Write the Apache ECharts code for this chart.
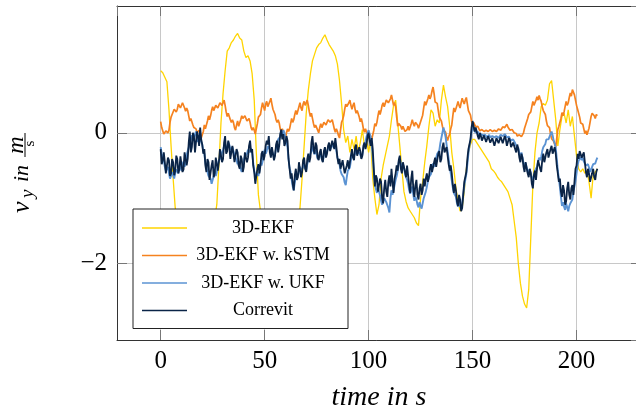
<!DOCTYPE html>
<html><head><meta charset="utf-8">
<script src="https://cdn.jsdelivr.net/npm/echarts@6/dist/echarts.min.js"></script>
<style>html,body{margin:0;padding:0;background:#fff}#c{width:636px;height:413px}</style>
</head><body><div id="c"></div>
<script>
// ---------- data ----------
// whole-second samples (t = 0..210 s) and, for the noisy signals, the half-second samples in between
const seriesNames = ['3D-EKF', '3D-EKF w. kSTM', '3D-EKF w. UKF', 'Correvit'];
const xTicks = [0, 50, 100, 150, 200];
const yTicks = [-2, 0];

const ekf = [
 0.95,0.92,0.85,0.78,0.35,-0.2,-0.7,-1.15,-1.35,-1.45,
 -1.5,-1.52,-1.55,-1.55,-1.58,-1.6,-1.58,-1.55,-1.55,-1.52,
 -1.5,-1.5,-1.48,-1.45,-1.42,-1.4,-1.3,-1.1,-0.5,0.15,
 0.6,0.95,1.25,1.3,1.38,1.42,1.48,1.52,1.45,1.42,
 1.25,1.15,1.18,1.1,0.9,0.5,-0.3,-0.95,-1.2,-1.35,
 -1.45,-1.5,-1.55,-1.58,-1.6,-1.6,-1.58,-1.55,-1.55,-1.52,
 -1.5,-1.48,-1.45,-1.42,-1.38,-1.35,-1.3,-1.15,-0.7,-0.2,
 0.3,0.65,0.9,1.1,1.2,1.3,1.35,1.38,1.45,1.5,
 1.42,1.35,1.3,1.25,1.18,1.05,0.8,0.45,0.05,-0.15,
 -0.05,-0.3,-0.1,-0.25,-0.05,-0.3,-0.15,0.05,-0.2,-0.1,
 -0.3,-0.1,-0.7,-1.0,-1.25,-1.1,-0.7,-0.5,-0.35,-0.2,
 -0.05,0.2,0.42,0.5,0.15,-0.2,-0.55,-0.9,-1.05,-1.15,
 -1.2,-1.25,-1.3,-1.38,-1.42,-1.0,-0.75,-0.45,-0.2,0.1,
 0.35,0.3,0.1,0.2,0.15,0.5,0.73,0.55,0.4,0.1,
 -0.3,-0.55,-0.85,-1.05,-1.2,-1.15,-0.9,-0.55,-0.3,-0.18,
 -0.1,-0.1,-0.15,-0.2,-0.25,-0.3,-0.35,-0.4,-0.45,-0.55,
 -0.58,-0.62,-0.68,-0.72,-0.75,-0.8,-0.85,-0.9,-1.0,-1.1,
 -1.35,-1.6,-2.0,-2.3,-2.5,-2.62,-2.68,-2.4,-1.6,-0.8,
 -0.3,0.0,0.15,0.4,0.45,0.42,0.5,0.75,0.8,0.5,
 0.2,-0.2,0.05,0.25,0.3,0.15,0.35,0.1,0.25,-0.05,
 -0.35,-0.55,-0.6,-0.55,-0.62,-0.58,-0.75,-1.0,-0.65,-0.6,-0.55
];

const kstm = [
 0.17,0.03,-0.04,0.06,0.04,0.24,0.3,0.38,0.36,0.46,
 0.4,0.44,0.33,0.34,0.18,0.2,0.08,0.06,0.0,-0.02,
 -0.1,0.12,0.08,0.26,0.26,0.4,0.36,0.44,0.4,0.48,
 0.46,0.42,0.25,0.3,0.16,0.16,0.04,0.18,0.08,0.26,
 0.2,0.25,0.17,0.16,0.04,0.04,0.0,0.24,0.28,0.46,
 0.34,0.48,0.38,0.53,0.36,0.28,0.16,0.15,0.01,0.04,
 -0.08,0.06,0.06,0.22,0.2,0.34,0.3,0.46,0.34,0.48,
 0.45,0.42,0.25,0.22,0.08,0.12,0.0,0.14,0.11,0.16,
 0.16,0.22,0.18,0.13,0.01,0.02,-0.08,0.16,0.26,0.44,
 0.38,0.5,0.36,0.46,0.3,0.34,0.17,0.15,0.01,0.03,
 -0.09,-0.06,-0.08,0.14,0.16,0.34,0.34,0.46,0.41,0.53,
 0.44,0.58,0.42,0.4,0.1,0.17,0.05,0.08,-0.01,0.1,
 0.07,0.2,0.1,0.18,0.07,0.15,0.27,0.48,0.44,0.58,
 0.56,0.7,0.47,0.45,0.24,0.18,0.04,0.01,-0.12,-0.02,
 0.12,0.38,0.34,0.48,0.38,0.53,0.44,0.54,0.34,0.27,
 0.12,0.14,0.06,0.07,0.01,0.05,0.0,0.05,0.01,0.06,
 0.0,0.05,0.03,0.07,0.06,0.11,0.1,0.09,0.04,0.05,
 0.0,-0.01,-0.08,-0.02,-0.07,0.07,0.15,0.28,0.32,0.48,
 0.44,0.55,0.57,0.48,0.34,0.28,0.11,0.08,-0.09,-0.13,
 -0.22,0.05,0.12,0.31,0.32,0.48,0.46,0.61,0.66,0.58,
 0.42,0.33,0.15,0.13,-0.01,-0.03,0.07,0.25,0.33,0.22,0.26
];
const kstmHalf = [
 0.08,-0.02,0.03,0.0,0.16,0.28,0.36,0.32,0.44,0.38,
 0.46,0.38,0.38,0.26,0.22,0.12,0.1,0.0,0.04,-0.08,
 0.02,0.06,0.18,0.2,0.34,0.34,0.42,0.38,0.46,0.42,
 0.5,0.32,0.3,0.2,0.2,0.08,0.12,0.1,0.2,0.22,
 0.26,0.18,0.22,0.08,0.08,-0.02,0.14,0.22,0.38,0.4,
 0.44,0.4,0.48,0.44,0.34,0.2,0.2,0.06,0.06,-0.04,
 0.0,0.02,0.14,0.16,0.28,0.28,0.4,0.38,0.44,0.42,
 0.5,0.32,0.3,0.14,0.12,0.04,0.08,0.08,0.16,0.12,
 0.2,0.16,0.2,0.06,0.06,-0.04,0.04,0.2,0.36,0.4,
 0.46,0.42,0.42,0.36,0.34,0.24,0.22,0.06,0.06,-0.04,
 -0.02,-0.1,0.04,0.1,0.26,0.28,0.42,0.4,0.5,0.46,
 0.52,0.5,0.46,0.24,0.14,0.1,0.1,0.02,0.05,0.04,
 0.14,0.14,0.16,0.12,0.12,0.22,0.38,0.42,0.52,0.52,
 0.64,0.6,0.5,0.34,0.24,0.1,0.06,-0.06,-0.06,0.06,
 0.26,0.32,0.42,0.42,0.46,0.48,0.5,0.44,0.32,0.18,
 0.16,0.09,0.1,0.03,0.05,0.02,0.04,0.02,0.05,0.02,
 0.04,0.02,0.06,0.04,0.09,0.08,0.13,0.06,0.07,0.02,
 0.03,-0.05,-0.03,-0.06,0.0,0.12,0.22,0.26,0.4,0.42,
 0.5,0.5,0.52,0.4,0.32,0.18,0.14,-0.02,-0.06,-0.18,
 -0.08,0.1,0.22,0.26,0.4,0.42,0.54,0.56,0.64,0.5,
 0.36,0.24,0.18,0.06,0.03,0.02,0.16,0.3,0.26,0.28
];

const ukf = [
 -0.22,-0.38,-0.52,-0.55,-0.62,-0.66,-0.64,-0.62,-0.58,-0.54,
 -0.58,-0.44,-0.46,-0.28,-0.18,-0.04,-0.12,0.02,-0.14,-0.03,
 -0.18,-0.32,-0.54,-0.66,-0.7,-0.76,-0.58,-0.6,-0.42,-0.38,
 -0.26,-0.22,-0.2,-0.18,-0.28,-0.28,-0.32,-0.48,-0.46,-0.6,
 -0.42,-0.38,-0.26,-0.28,-0.32,-0.58,-0.68,-0.66,-0.46,-0.44,
 -0.26,-0.28,-0.17,-0.34,-0.32,-0.33,-0.16,-0.12,0.02,0.04,
 -0.08,-0.22,-0.54,-0.72,-0.88,-0.68,-0.66,-0.52,-0.63,-0.47,
 -0.58,-0.42,-0.38,-0.2,-0.33,-0.32,-0.43,-0.32,-0.44,-0.27,
 -0.31,-0.2,-0.23,-0.22,-0.18,-0.38,-0.48,-0.63,-0.68,-0.8,
 -0.58,-0.53,-0.32,-0.41,-0.27,-0.35,-0.32,-0.33,-0.18,-0.06,
 0.04,-0.06,-0.38,-0.78,-0.92,-0.82,-1.04,-1.08,-0.98,-1.05,
 -1.22,-0.88,-0.88,-0.72,-0.58,-0.37,-0.53,-0.52,-0.68,-0.78,
 -0.93,-0.82,-1.04,-1.02,-1.14,-1.12,-1.08,-0.97,-0.83,-0.68,
 -0.63,-0.47,-0.48,-0.32,-0.27,-0.08,0.08,-0.06,-0.28,-0.52,
 -0.73,-0.92,-0.98,-1.13,-1.12,-1.08,-0.82,-0.63,-0.32,-0.12,
 0.1,0.04,0.03,-0.03,-0.02,-0.04,-0.03,-0.07,-0.03,-0.08,
 -0.04,-0.09,-0.04,-0.07,-0.02,-0.06,-0.03,-0.09,-0.09,-0.13,
 -0.09,-0.2,-0.23,-0.37,-0.38,-0.52,-0.53,-0.63,-0.62,-0.73,
 -0.58,-0.52,-0.38,-0.37,-0.22,-0.17,-0.08,-0.07,0.02,-0.12,
 -0.23,-0.58,-0.83,-1.12,-1.13,-1.08,-1.2,-1.08,-1.02,-0.82,
 -0.62,-0.43,-0.37,-0.38,-0.47,-0.52,-0.53,-0.58,-0.48,-0.47,-0.38
];
const ukfHalf = [
 -0.32,-0.42,-0.58,-0.52,-0.7,-0.6,-0.7,-0.56,-0.62,-0.5,
 -0.48,-0.52,-0.34,-0.3,-0.08,-0.12,-0.02,-0.1,-0.04,-0.14,
 -0.28,-0.45,-0.6,-0.64,-0.78,-0.66,-0.66,-0.48,-0.44,-0.3,
 -0.2,-0.26,-0.14,-0.26,-0.22,-0.34,-0.42,-0.44,-0.56,-0.5,
 -0.36,-0.32,-0.3,-0.24,-0.46,-0.66,-0.62,-0.58,-0.5,-0.34,
 -0.32,-0.2,-0.26,-0.28,-0.38,-0.24,-0.1,-0.06,-0.04,0.0,
 -0.14,-0.4,-0.6,-0.82,-0.76,-0.62,-0.58,-0.6,-0.52,-0.54,
 -0.48,-0.36,-0.28,-0.28,-0.26,-0.4,-0.36,-0.4,-0.34,-0.32,
 -0.24,-0.26,-0.18,-0.2,-0.28,-0.42,-0.58,-0.6,-0.76,-0.68,
 -0.6,-0.42,-0.38,-0.32,-0.32,-0.3,-0.38,-0.24,-0.14,0.0,
 -0.02,-0.2,-0.6,-0.86,-0.84,-0.96,-1.1,-1.0,-1.06,-1.15,
 -1.0,-0.95,-0.8,-0.66,-0.45,-0.46,-0.48,-0.62,-0.72,-0.88,
 -0.88,-0.95,-0.98,-1.1,-1.06,-1.16,-1.0,-0.9,-0.74,-0.7,
 -0.54,-0.52,-0.38,-0.34,-0.16,0.0,0.02,-0.18,-0.4,-0.62,
 -0.84,-0.9,-1.08,-1.06,-1.16,-0.95,-0.72,-0.48,-0.2,0.0,
 0.06,0.0,0.02,-0.06,-0.01,-0.06,-0.04,-0.04,-0.07,-0.05,
 -0.07,-0.05,-0.08,-0.03,-0.05,-0.02,-0.07,-0.06,-0.12,-0.1,
 -0.16,-0.18,-0.32,-0.3,-0.46,-0.46,-0.6,-0.56,-0.68,-0.66,
 -0.56,-0.44,-0.42,-0.28,-0.22,-0.1,-0.1,-0.02,-0.04,-0.16,
 -0.4,-0.7,-0.98,-1.06,-1.18,-1.14,-1.12,-1.1,-0.9,-0.74,
 -0.5,-0.4,-0.42,-0.44,-0.5,-0.48,-0.6,-0.52,-0.5,-0.42
];

const correvit = [
 -0.25,-0.42,-0.45,-0.6,-0.42,-0.62,-0.45,-0.58,-0.4,-0.55,
 -0.38,-0.56,-0.32,-0.4,0.02,-0.22,-0.05,-0.28,-0.06,0.08,
 -0.18,-0.25,-0.6,-0.45,-0.7,-0.42,-0.62,-0.4,-0.45,-0.28,
 -0.4,-0.05,-0.28,-0.2,-0.38,-0.22,-0.42,-0.3,-0.55,-0.4,
 -0.52,-0.28,-0.38,-0.12,-0.25,-0.6,-0.75,-0.48,-0.5,-0.28,
 -0.35,-0.12,-0.05,-0.38,-0.25,-0.35,-0.12,-0.2,0.05,-0.02,
 -0.15,-0.12,-0.55,-0.62,-0.88,-0.55,-0.68,-0.48,-0.6,-0.38,
 -0.6,-0.32,-0.38,-0.05,-0.32,-0.2,-0.42,-0.25,-0.45,-0.22,
 -0.32,-0.15,-0.25,-0.18,-0.08,-0.38,-0.4,-0.58,-0.45,-0.65,
 -0.42,-0.52,-0.25,-0.42,-0.18,-0.38,-0.28,-0.35,-0.15,-0.18,
 0.0,-0.2,-0.25,-0.82,-0.7,-0.92,-0.75,-1.08,-0.72,-0.98,
 -0.65,-0.55,-0.92,-0.62,-0.58,-0.35,-0.62,-0.42,-0.68,-0.65,
 -0.92,-0.58,-0.98,-0.72,-1.02,-0.78,-0.88,-0.82,-0.62,-0.68,
 -0.48,-0.58,-0.38,-0.5,-0.28,-0.4,-0.15,-0.32,-0.35,-0.58,
 -0.62,-0.92,-0.88,-1.12,-1.02,-1.15,-0.75,-0.6,-0.25,-0.1,
 0.18,0.02,0.05,-0.1,-0.05,-0.14,-0.06,-0.16,-0.07,-0.18,
 -0.1,-0.18,-0.06,-0.15,-0.05,-0.14,-0.1,-0.18,-0.12,-0.25,
 -0.12,-0.3,-0.25,-0.45,-0.38,-0.6,-0.42,-0.68,-0.62,-0.85,
 -0.58,-0.55,-0.4,-0.6,-0.32,-0.42,-0.25,-0.4,-0.2,-0.35,
 -0.32,-0.62,-0.7,-0.98,-0.88,-1.05,-0.75,-1.02,-0.8,-0.75,
 -0.5,-0.4,-0.25,-0.4,-0.45,-0.68,-0.62,-0.78,-0.55,-0.72,-0.55
];
const correvitHalf = [
 -0.48,-0.3,-0.62,-0.38,-0.66,-0.4,-0.65,-0.35,-0.62,-0.36,
 -0.6,-0.3,-0.5,-0.15,-0.3,0.0,-0.3,0.02,-0.2,-0.1,
 -0.32,-0.5,-0.4,-0.72,-0.5,-0.68,-0.38,-0.58,-0.25,-0.45,
 -0.15,-0.32,-0.12,-0.4,-0.2,-0.45,-0.25,-0.5,-0.35,-0.6,
 -0.3,-0.45,-0.2,-0.3,-0.5,-0.78,-0.55,-0.62,-0.32,-0.42,
 -0.2,-0.18,-0.3,-0.22,-0.42,-0.18,-0.3,-0.02,-0.1,-0.2,
 -0.05,-0.4,-0.7,-0.78,-0.65,-0.72,-0.45,-0.68,-0.42,-0.55,
 -0.4,-0.45,-0.15,-0.25,-0.15,-0.38,-0.3,-0.4,-0.28,-0.38,
 -0.2,-0.28,-0.12,-0.25,-0.22,-0.48,-0.55,-0.42,-0.62,-0.5,
 -0.55,-0.35,-0.38,-0.22,-0.35,-0.22,-0.4,-0.2,-0.25,-0.05,
 -0.12,-0.08,-0.55,-0.65,-0.9,-0.7,-1.0,-0.85,-0.9,-0.75,
 -0.82,-0.75,-0.7,-0.5,-0.42,-0.55,-0.45,-0.6,-0.5,-0.8,
 -0.7,-0.85,-0.8,-0.95,-0.85,-0.95,-0.7,-0.7,-0.75,-0.55,
 -0.6,-0.45,-0.52,-0.32,-0.45,-0.22,-0.3,-0.22,-0.48,-0.5,
 -0.8,-0.78,-1.05,-0.95,-1.2,-0.95,-0.72,-0.4,-0.22,0.08,
 0.1,0.08,-0.05,0.0,-0.12,-0.04,-0.14,-0.05,-0.15,-0.08,
 -0.2,-0.08,-0.16,-0.06,-0.16,-0.05,-0.2,-0.08,-0.22,-0.15,
 -0.25,-0.18,-0.38,-0.32,-0.52,-0.45,-0.62,-0.55,-0.78,-0.65,
 -0.72,-0.42,-0.55,-0.42,-0.45,-0.3,-0.38,-0.25,-0.32,-0.22,
 -0.5,-0.75,-0.9,-0.8,-1.1,-0.85,-0.95,-0.85,-0.95,-0.55,
 -0.32,-0.28,-0.38,-0.3,-0.6,-0.55,-0.75,-0.62,-0.68,-0.6
];

const colors = ['#FFD400', '#F5821F', '#5B93D3', '#0A2447'];
const widths = [1.3, 1.7, 1.9, 1.8];
const wholeValues = [ekf, kstm, ukf, correvit];
const halfValues = [null, kstmHalf, ukfHalf, correvitHalf];
const sampleStep = 1; // s between whole samples

function buildPoints(whole, half) {
  const pts = [];
  for (let i = 0; i < whole.length; i++) {
    pts.push([i * sampleStep, whole[i]]);
    if (half && i < half.length) pts.push([(i + 0.5) * sampleStep, half[i]]);
  }
  return pts;
}

// ---------- chart ----------
const chart = echarts.init(document.getElementById('c'), null, {renderer: 'canvas'});
const serif = '"Liberation Serif", "DejaVu Serif", serif';
const minus = v => (v < 0 ? '\u2212' + Math.abs(v) : String(v));

const tickStyle = {inside: true, length: 10, lineStyle: {color: '#777', width: 1}};
const frameLine = {show: true, onZero: false, lineStyle: {color: '#333', width: 1}};
const xBase = {type: 'value', min: -21, max: 231, minInterval: 50, maxInterval: 50};
const yBase = {type: 'value', min: -3.17, max: 1.94, minInterval: 2, maxInterval: 2};

const option = {
  animation: false,
  backgroundColor: '#fff',
  grid: {left: 117, top: 6, right: -5, bottom: 73, show: false, containLabel: false, outerBoundsMode: 'none'},
  xAxis: [
    Object.assign({}, xBase, {
      position: 'bottom',
      axisLine: frameLine,
      axisTick: tickStyle,
      splitLine: {show: true, lineStyle: {color: '#c8c8c8', width: 1}},
      axisLabel: {
        fontFamily: serif, fontSize: 25, color: '#000', margin: 9,
        showMinLabel: false, showMaxLabel: false,
        formatter: v => (xTicks.indexOf(v) >= 0 ? String(v) : '')
      },
      name: 'time in s', nameLocation: 'middle', nameGap: 44,
      nameTextStyle: {fontFamily: serif, fontStyle: 'italic', fontSize: 28, color: '#000'}
    }),
    Object.assign({}, xBase, {
      position: 'top', axisLine: frameLine, axisTick: tickStyle,
      axisLabel: {show: false}, splitLine: {show: false}
    })
  ],
  yAxis: [
    Object.assign({}, yBase, {
      position: 'left',
      axisLine: frameLine,
      axisTick: tickStyle,
      splitLine: {show: true, lineStyle: {color: '#c8c8c8', width: 1}},
      axisLabel: {
        fontFamily: serif, fontSize: 25, color: '#000', margin: 10,
        showMinLabel: false, showMaxLabel: false,
        formatter: v => (yTicks.indexOf(v) >= 0 ? minus(v) : '')
      }
    }),
    Object.assign({}, yBase, {
      position: 'right', axisLine: frameLine, axisTick: tickStyle,
      axisLabel: {show: false}, splitLine: {show: false}
    })
  ],
  legend: {
    data: seriesNames,
    orient: 'vertical',
    left: 133, top: 209,
    padding: [10, 14, 9, 9],
    itemGap: 9.5,
    icon: 'rect',
    itemWidth: 45, itemHeight: 1.5,
    backgroundColor: '#fff',
    borderColor: '#222', borderWidth: 1, borderRadius: 0,
    selectedMode: false,
    z: 10,
    formatter: n => '{a|' + n + '}',
    textStyle: {
      fontFamily: serif, fontSize: 18, color: '#000',
      rich: {a: {fontFamily: serif, fontSize: 18, color: '#000', width: 142, align: 'center', lineHeight: 18}}
    }
  },
  graphic: [{
    type: 'group', x: 30, y: 213, rotation: Math.PI / 2, silent: true,
    children: [
      {type: 'text', x: 0, y: -8, style: {text: 'v', font: 'italic 26px ' + serif, fill: '#000', align: 'left', verticalAlign: 'middle'}},
      {type: 'text', x: 15, y: -2.5, style: {text: 'y', font: 'italic 19px ' + serif, fill: '#000', align: 'left', verticalAlign: 'middle'}},
      {type: 'text', x: 31, y: -8, style: {text: 'in', font: 'italic 22px ' + serif, fill: '#000', align: 'left', verticalAlign: 'middle'}},
      {type: 'text', x: 68, y: -13.5, style: {text: 'm', font: 'italic 24px ' + serif, fill: '#000', align: 'center', verticalAlign: 'middle'}},
      {type: 'line', shape: {x1: 56, y1: -5, x2: 80, y2: -5}, style: {stroke: '#000', lineWidth: 1}},
      {type: 'text', x: 69.5, y: 0.5, style: {text: 's', font: '15px ' + serif, fill: '#000', align: 'center', verticalAlign: 'middle'}}
    ]
  }],
  series: seriesNames.map((name, k) => ({
    name: name,
    type: 'line',
    xAxisIndex: 0, yAxisIndex: 0,
    symbol: 'none', showSymbol: false,
    color: colors[k],
    lineStyle: {color: colors[k], width: widths[k]},
    z: 2 + k,
    data: buildPoints(wholeValues[k], halfValues[k])
  }))
};
chart.setOption(option);
</script>
</body></html>
